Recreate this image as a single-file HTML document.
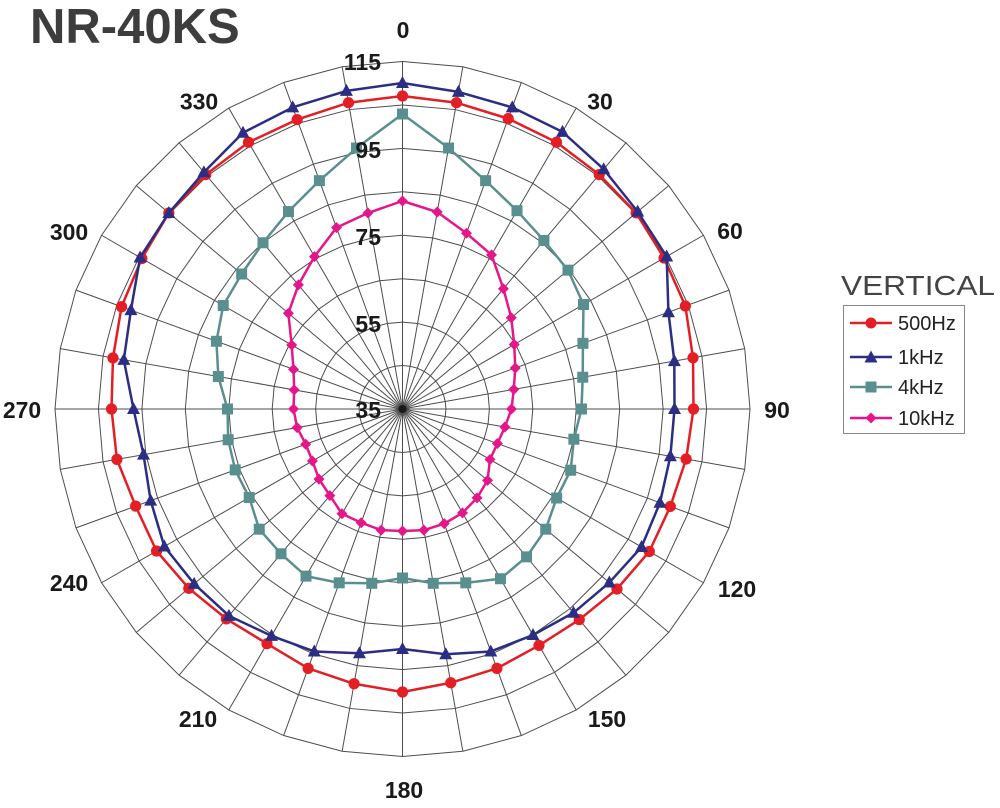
<!DOCTYPE html>
<html>
<head>
<meta charset="utf-8">
<style>
  html,body{margin:0;padding:0;background:#fff;}
  body{width:1000px;height:808px;overflow:hidden;}
  svg{display:block;}
  text{font-family:"Liberation Sans",Arial,sans-serif;}
</style>
</head>
<body>
<svg id="chart" width="1000" height="808" viewBox="0 0 1000 808" xmlns="http://www.w3.org/2000/svg">
  <rect x="0" y="0" width="1000" height="808" fill="#fff"/>
  <g id="grid" stroke="#4d4d4d" stroke-width="1" fill="none"></g>
  <circle cx="402.5" cy="409" r="4" fill="#1a1a1a"/>
  <g id="series"></g>

  <!-- Title -->
  <text x="30" y="43" font-size="49" font-weight="bold" fill="#3d3d3d">NR-40KS</text>

  <!-- Angle labels -->
  <g font-size="23" font-weight="bold" fill="#1a1a1a" text-anchor="middle">
    <text x="403" y="38">0</text>
    <text x="600" y="109.5">30</text>
    <text x="730" y="239">60</text>
    <text x="777" y="418">90</text>
    <text x="737" y="597">120</text>
    <text x="607" y="727">150</text>
    <text x="404" y="798">180</text>
    <text x="198" y="727">210</text>
    <text x="69" y="591">240</text>
    <text x="22" y="418">270</text>
    <text x="69" y="240">300</text>
    <text x="199" y="109.5">330</text>
  </g>

  <!-- Radial labels -->
  <g font-size="23" font-weight="bold" fill="#1a1a1a" text-anchor="end">
    <text x="381" y="70">115</text>
    <text x="381" y="158">95</text>
    <text x="381" y="245">75</text>
    <text x="381" y="332">55</text>
    <text x="381" y="418">35</text>
  </g>

  <!-- Legend -->
  <text x="841" y="295" font-size="28" fill="#444" textLength="154" lengthAdjust="spacingAndGlyphs">VERTICAL</text>
  <rect x="843.5" y="305.5" width="121" height="128" fill="#fff" stroke="#888" stroke-width="1"/>
  <g stroke-width="2.5">
    <line x1="850" y1="323" x2="892" y2="323" stroke="#e31e24"/>
    <circle cx="871" cy="323" r="5.5" fill="#e31e24" stroke="none"/>
    <line x1="850" y1="357" x2="892" y2="357" stroke="#2b2e83"/>
    <polygon points="871,350.5 877.5,362.5 864.5,362.5" fill="#2b2e83" stroke="none"/>
    <line x1="850" y1="387" x2="892" y2="387" stroke="#5a8f8f"/>
    <rect x="865.5" y="381.5" width="11" height="11" fill="#5a8f8f" stroke="none"/>
    <line x1="850" y1="418" x2="892" y2="418" stroke="#e5168a"/>
    <polygon points="871,412.5 876.5,418 871,423.5 865.5,418" fill="#e5168a" stroke="none"/>
  </g>
  <g font-size="20" fill="#222">
    <text x="898" y="330">500Hz</text>
    <text x="898" y="364">1kHz</text>
    <text x="898" y="394">4kHz</text>
    <text x="898" y="425">10kHz</text>
  </g>
</svg>
<script>
(function(){
  var NS="http://www.w3.org/2000/svg";
  var cx=402.5, cy=409, R=347.5;
  var grid=document.getElementById("grid");
  function pt(a,r){var t=a*Math.PI/180;return [cx+r*Math.sin(t), cy-r*Math.cos(t)];}
  for(var k=1;k<=8;k++){
    var r=R*k/8, pts=[];
    for(var a=0;a<360;a+=10){var p=pt(a,r);pts.push(p[0].toFixed(2)+","+p[1].toFixed(2));}
    var pg=document.createElementNS(NS,"polygon");
    pg.setAttribute("points",pts.join(" "));
    grid.appendChild(pg);
  }
  for(var a=0;a<360;a+=10){
    var p=pt(a,R);
    var l=document.createElementNS(NS,"line");
    l.setAttribute("x1",cx);l.setAttribute("y1",cy);
    l.setAttribute("x2",p[0].toFixed(2));l.setAttribute("y2",p[1].toFixed(2));
    grid.appendChild(l);
  }
  var data={
    red:[313,311,309,308,306,305,302,301,295,291,288,285,285,280,275,273,276,278,283,279,276,271,274,279,284,284,290,291,294,299,301,305,306,308,308,311],
    blue:[326,322,321,320,313,307,305,283,276,272,272,274,276,270,266,261,258,249,240,248,258,262,270,272,275,268,263,269,283,289,303,305,309,319,321,323],
    teal:[295,265,243,229,220,216,209,192,183,179,174,179,178,187,193,196,185,177,169,177,185,193,189,187,177,178,177,175,187,198,207,210,217,228,243,265],
    mag:[208,200,187,178,157,142,129,120,113,109,104,101,101,111,116,120,122,123,122,123,121,121,113,109,104,103,107,109,110,116,128,149,162,176,193,199]
  };
  var cfg=[
    ["red","#e31e24","circle"],
    ["blue","#2b2e83","tri"],
    ["teal","#5a8f8f","sq"],
    ["mag","#e5168a","dia"]
  ];
  var sg=document.getElementById("series");
  cfg.forEach(function(c){
    var vals=data[c[0]], col=c[1], pts=[];
    var g=document.createElementNS(NS,"g");
    for(var i=0;i<36;i++){var p=pt(i*10,vals[i]);pts.push(p);}
    var pl=document.createElementNS(NS,"polygon");
    pl.setAttribute("points",pts.map(function(p){return p[0].toFixed(2)+","+p[1].toFixed(2);}).join(" "));
    pl.setAttribute("fill","none");pl.setAttribute("stroke",col);pl.setAttribute("stroke-width","2.5");
    pl.setAttribute("stroke-linejoin","round");
    g.appendChild(pl);
    pts.forEach(function(p){
      var m, x=p[0], y=p[1];
      if(c[2]=="circle"){m=document.createElementNS(NS,"circle");m.setAttribute("cx",x);m.setAttribute("cy",y);m.setAttribute("r",5.6);}
      else if(c[2]=="tri"){m=document.createElementNS(NS,"polygon");m.setAttribute("points",x+","+(y-7)+" "+(x+6.5)+","+(y+5)+" "+(x-6.5)+","+(y+5));}
      else if(c[2]=="sq"){m=document.createElementNS(NS,"rect");m.setAttribute("x",x-5.5);m.setAttribute("y",y-5.5);m.setAttribute("width",11);m.setAttribute("height",11);}
      else {m=document.createElementNS(NS,"polygon");m.setAttribute("points",x+","+(y-5.5)+" "+(x+5.5)+","+y+" "+x+","+(y+5.5)+" "+(x-5.5)+","+y);}
      m.setAttribute("fill",col);
      g.appendChild(m);
    });
    sg.appendChild(g);
  });
})();
</script>
</body>
</html>
